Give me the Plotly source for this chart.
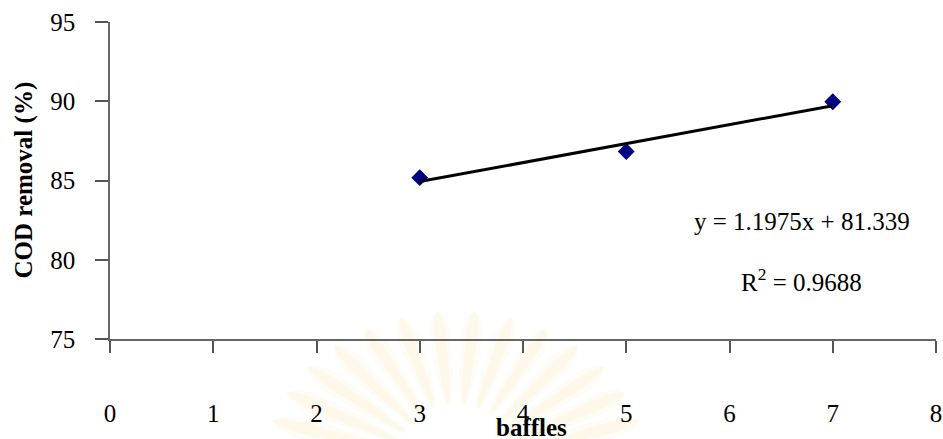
import math
import plotly.graph_objects as go

# Measured COD removal for each baffle count
baffles = [3, 5, 7]
cod_removal = [85.18, 86.83, 89.97]

# Linear trend line reported for the data
slope = 1.1975
intercept = 81.339
r_squared = 0.9688

x_ticks = [0, 1, 2, 3, 4, 5, 6, 7, 8]
y_ticks = [75, 80, 85, 90, 95]

FONT = "Liberation Serif, Times New Roman, serif"
FS = 25
W, H = 943, 439
M_L, M_R, M_T, M_B = 110, 7, 22, 100
PW, PH = W - M_L - M_R, H - M_T - M_B

trend_x = [min(baffles), max(baffles)]
trend_y = [slope * v + intercept for v in trend_x]

fig = go.Figure()
fig.add_trace(go.Scatter(
    x=baffles, y=cod_removal, mode="markers",
    marker=dict(symbol="diamond", size=13, color="#000080",
                line=dict(width=0)),
    showlegend=False, hoverinfo="x+y",
))
fig.add_trace(go.Scatter(
    x=trend_x, y=trend_y, mode="lines",
    line=dict(color="black", width=3),
    showlegend=False, hoverinfo="skip",
))


def px_to_paper(px, py):
    return (px - M_L) / PW, 1 - (py - M_T) / PH


# faint sunburst emblem printed behind the axis labels
shapes = []
cx, cy = 456, 466
n_rays = 32
r_in, rx_out, ry_out = 62, 192, 156


def petal(a, half_w, alpha):
    ux, uy = math.cos(a), -math.sin(a)
    dx, dy = rx_out * ux, ry_out * uy
    ln = math.hypot(dx, dy)
    nx, ny = -dy / ln, dx / ln
    t0 = r_in / ln
    pts = []
    profile = [(t0, 0.25), (0.55, 0.7), (0.85, 1.0), (0.96, 0.6)]
    for t, w in profile:
        pts.append((cx + t * dx + nx * half_w * w, cy + t * dy + ny * half_w * w))
    tip = (cx + dx, cy + dy)
    right = [(cx + t * dx - nx * half_w * w, cy + t * dy - ny * half_w * w)
             for t, w in reversed(profile)]
    poly = pts + [tip] + right
    q = [px_to_paper(*p) for p in poly]
    path = "M " + " L ".join(f"{u:.4f},{v:.4f}" for u, v in q) + " Z"
    return dict(type="path", path=path, xref="paper", yref="paper",
                fillcolor=f"rgba(242,220,140,{alpha})",
                line=dict(width=0), layer="below")


for i in range(n_rays):
    a = math.pi * 2 * (i + 0.5) / n_rays
    shapes.append(petal(a, 11, 0.08))
    shapes.append(petal(a, 6, 0.11))

annotations = [
    dict(x=6.7, y=82.4, xref="x", yref="y", showarrow=False,
         text=f"y = {slope}x + {intercept}",
         font=dict(family=FONT, size=FS, color="black")),
    dict(x=6.7, y=78.73, xref="x", yref="y", showarrow=False,
         text=f"R<sup>2</sup> = {r_squared}",
         font=dict(family=FONT, size=FS, color="black")),
    dict(x=(531 - M_L) / PW, y=1 - (427 - M_T) / PH, xref="paper",
         yref="paper", xanchor="center", yanchor="middle",
         showarrow=False, text="<b>baffles</b>",
         font=dict(family=FONT, size=FS, color="black")),
    dict(x=(23 - M_L) / PW, y=0.5, xref="paper", yref="paper",
         xanchor="center", yanchor="middle",
         showarrow=False, textangle=-90, text="<b>COD removal (%)</b>",
         font=dict(family=FONT, size=FS, color="black")),
]

fig.update_layout(
    width=W, height=H,
    margin=dict(l=M_L, r=M_R, t=M_T, b=M_B, autoexpand=False),
    paper_bgcolor="white", plot_bgcolor="white",
    font=dict(family=FONT, size=FS, color="black"),
    shapes=shapes, annotations=annotations,
    xaxis=dict(range=[0, 8], tickvals=x_ticks, ticks="outside", ticklen=12,
               tickwidth=1.5, tickcolor="#555555", showline=True,
               linecolor="#666666", linewidth=1.5, showgrid=False,
               zeroline=False, ticklabelstandoff=39, fixedrange=True),
    yaxis=dict(range=[75, 95], tickvals=y_ticks, ticks="outside", ticklen=13,
               tickwidth=1.5, tickcolor="#555555", showline=True,
               linecolor="#666666", linewidth=1.5, showgrid=False,
               zeroline=False, ticklabelstandoff=15, fixedrange=True),
)

fig.write_html("out.html")
